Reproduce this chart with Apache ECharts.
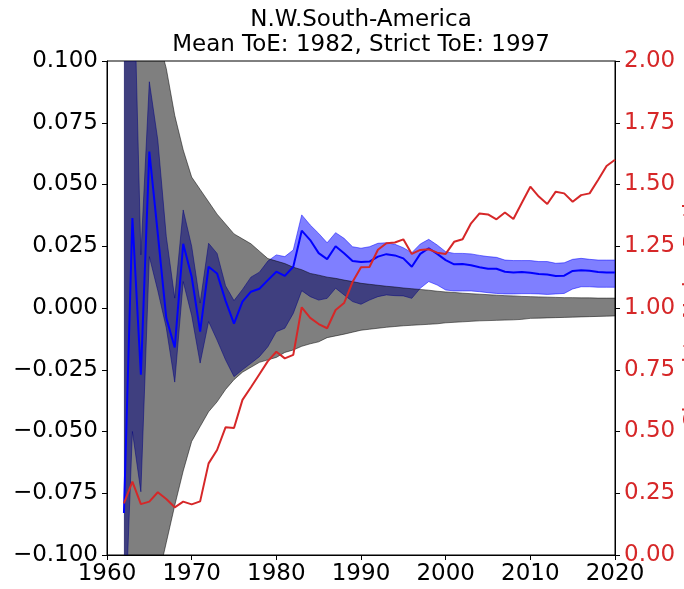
<!DOCTYPE html>
<html>
<head>
<meta charset="utf-8">
<title>N.W.South-America ToE</title>
<script src="https://cdn.jsdelivr.net/npm/echarts@6/dist/echarts.min.js"></script>
<style>
  html, body { margin: 0; padding: 0; background: #fff; }
  #chart { width: 684px; height: 589px; }
</style>
</head>
<body>
<div id="chart"></div>
<script>
// Annual values, 1962-2020
const years = [];
for (let y = 1962; y <= 2020; y++) years.push(y);

// Noise envelope (grey band), left axis
const noiseUpper = [0.30, 0.22, 0.17, 0.135, 0.11, 0.097, 0.078, 0.064, 0.053, 0.048,
  0.043, 0.038, 0.034, 0.030, 0.028, 0.026, 0.023, 0.020, 0.019, 0.018,
  0.0165, 0.0155, 0.014, 0.0133, 0.0125, 0.012, 0.0113, 0.0107, 0.010, 0.0096,
  0.0092, 0.0088, 0.0085, 0.0081, 0.0078, 0.0075, 0.0072, 0.0068, 0.0065, 0.0063,
  0.006, 0.0058, 0.0056, 0.0054, 0.0052, 0.005, 0.0049, 0.0047, 0.0046, 0.0045,
  0.0044, 0.0043, 0.0042, 0.0042, 0.0041, 0.0041, 0.004, 0.004, 0.004];
const noiseLower = [-0.30, -0.22, -0.17, -0.135, -0.11, -0.095, -0.080, -0.066, -0.054, -0.048,
  -0.042, -0.038, -0.033, -0.029, -0.026, -0.024, -0.022, -0.021, -0.020, -0.018,
  -0.017, -0.0155, -0.0145, -0.0137, -0.012, -0.0113, -0.0106, -0.0098, -0.009, -0.0086,
  -0.0082, -0.0078, -0.0075, -0.0072, -0.007, -0.0068, -0.0066, -0.0064, -0.006, -0.0058,
  -0.0056, -0.0054, -0.0052, -0.0051, -0.005, -0.0049, -0.0048, -0.0046, -0.0042, -0.0041,
  -0.004, -0.0039, -0.0038, -0.0037, -0.0036, -0.0035, -0.0034, -0.0033, -0.0032];

// Regional mean signal and its spread (blue), left axis
const signalMean = [-0.083, 0.0364, -0.027, 0.0633, 0.030, -0.004, -0.016, 0.026, 0.0127, -0.0096,
  0.0167, 0.014, 0.003, -0.0063, 0.0026, 0.0066, 0.0078, 0.0113, 0.0147, 0.013,
  0.0167, 0.0313, 0.0275, 0.0222, 0.0198, 0.025, 0.0222, 0.019, 0.0186, 0.0188,
  0.0208, 0.0218, 0.0213, 0.0201, 0.0167, 0.0219, 0.0242, 0.0219, 0.0194, 0.0177,
  0.0178, 0.0173, 0.0165, 0.0159, 0.0159, 0.0147, 0.0144, 0.0146, 0.0143, 0.0138,
  0.0136, 0.013, 0.0131, 0.015, 0.0153, 0.0151, 0.0146, 0.0144, 0.0144];
const signalUpper = [0.11, 0.16, 0.0215, 0.0916, 0.068, 0.029, 0.004, 0.0397, 0.025, 0.002,
  0.0262, 0.0221, 0.009, 0.003, 0.0075, 0.0125, 0.0145, 0.019, 0.0215, 0.0208,
  0.0235, 0.0377, 0.0336, 0.0302, 0.0264, 0.0305, 0.0282, 0.0248, 0.0242, 0.0248,
  0.0262, 0.0264, 0.0258, 0.0244, 0.0224, 0.0259, 0.0278, 0.0255, 0.0228, 0.0221,
  0.0221, 0.0219, 0.0213, 0.0208, 0.0205, 0.0194, 0.0192, 0.0192, 0.0192, 0.0188,
  0.0188, 0.0181, 0.0183, 0.0197, 0.0201, 0.0197, 0.0194, 0.0194, 0.0194];
const signalLower = [-0.14, -0.05, -0.0744, 0.0208, 0.007, -0.008, -0.030, 0.0107, -0.003, -0.0223,
  -0.0055, -0.013, -0.021, -0.0278, -0.025, -0.0224, -0.0197, -0.0157, -0.0096, -0.0082,
  -0.0022, 0.007, 0.0046, 0.0032, 0.0039, 0.008, 0.0053, 0.0026, 0.0015, 0.0032,
  0.0046, 0.0053, 0.005, 0.0049, 0.0039, 0.008, 0.0107, 0.0093, 0.0073, 0.0069,
  0.0069, 0.0069, 0.0066, 0.0062, 0.0059, 0.0057, 0.0057, 0.0058, 0.0058, 0.0057,
  0.0055, 0.0057, 0.0059, 0.0077, 0.0086, 0.0086, 0.0084, 0.0084, 0.0084];

// Signal-to-noise ratio (red), right axis
const snRatio = [0.209, 0.297, 0.206, 0.216, 0.254, 0.227, 0.193, 0.216, 0.205, 0.217,
  0.371, 0.425, 0.517, 0.514, 0.628, 0.679, 0.732, 0.785, 0.823, 0.796,
  0.81, 1.003, 0.96, 0.935, 0.918, 0.992, 1.02, 1.105, 1.165, 1.166,
  1.236, 1.262, 1.265, 1.278, 1.219, 1.235, 1.238, 1.224, 1.219, 1.268,
  1.278, 1.343, 1.383, 1.379, 1.359, 1.387, 1.36, 1.426, 1.491, 1.451,
  1.421, 1.471, 1.464, 1.43, 1.457, 1.464, 1.518, 1.575, 1.60];

const titleLines = ['N.W.South-America', 'Mean ToE: 1982, Strict ToE: 1997'];
const rightAxisName = 'Signal to Noise Ratio';

const FONT = '"DejaVu Sans", sans-serif';
const FS = 23;
const pairs = (vals) => years.map((y, i) => [y, vals[i]]);
const minus = (s) => s.replace('-', '\u2212');

// Draws a filled band between two series as one polygon plus its two edges
function bandRenderer(lo, hi, fill, edge) {
  return function (params, api) {
    if (params.dataIndex !== 0) return null;
    const up = years.map((y, i) => api.coord([y, hi[i]]));
    const dn = years.map((y, i) => api.coord([y, lo[i]]));
    const cs = params.coordSys;
    return {
      type: 'group',
      clipPath: { type: 'rect', shape: { x: cs.x, y: cs.y, width: cs.width, height: cs.height } },
      children: [
        { type: 'polygon', shape: { points: up.concat(dn.slice().reverse()) }, style: { fill: fill } },
        { type: 'polyline', shape: { points: up }, style: { fill: null, stroke: edge, lineWidth: 1 } },
        { type: 'polyline', shape: { points: dn }, style: { fill: null, stroke: edge, lineWidth: 1 } }
      ]
    };
  };
}

const chart = echarts.init(document.getElementById('chart'), null, { renderer: 'canvas' });

const axisCommon = {
  axisLine: { show: true, onZero: false, lineStyle: { color: '#000', width: 1 } },
  axisTick: { show: true, length: 5, lineStyle: { color: '#000', width: 1 } },
  splitLine: { show: false }
};

chart.setOption({
  animation: false,
  backgroundColor: '#fff',
  grid: {
    left: 107, right: 69, top: 61, bottom: 34,
    outerBoundsMode: 'none', containLabel: false,
    show: true, borderColor: '#000', borderWidth: 1, backgroundColor: 'transparent'
  },
  graphic: [{
    type: 'text', x: 361, y: 8, z: 10,
    style: {
      text: titleLines.join('\n'), font: FS + 'px ' + FONT, fill: '#000',
      textAlign: 'center', textVerticalAlign: 'top', lineHeight: 25
    }
  }],
  xAxis: Object.assign({
    type: 'value', min: 1960, max: 2020, interval: 10,
    axisLabel: {
      color: '#000', fontSize: FS, fontFamily: FONT, margin: 8,
      showMinLabel: true, showMaxLabel: true,
      formatter: (v) => String(v)
    }
  }, axisCommon),
  yAxis: [
    Object.assign({
      type: 'value', min: -0.1, max: 0.1, interval: 0.025, position: 'left',
      axisLabel: {
        color: '#000', fontSize: FS, fontFamily: FONT, margin: 9,
        showMinLabel: true, showMaxLabel: true,
        formatter: (v) => minus(v.toFixed(3))
      }
    }, axisCommon),
    Object.assign({
      type: 'value', min: 0, max: 2, interval: 0.25, position: 'right',
      name: rightAxisName, nameLocation: 'middle', nameRotate: 90, nameGap: 68,
      nameMoveOverlap: false,
      nameTextStyle: { color: '#d62728', fontSize: FS, fontFamily: FONT },
      axisLabel: {
        color: '#d62728', fontSize: FS, fontFamily: FONT, margin: 9,
        showMinLabel: true, showMaxLabel: true,
        formatter: (v) => v.toFixed(2)
      }
    }, axisCommon)
  ],
  series: [
    {
      type: 'custom', name: 'signal spread', yAxisIndex: 0, clip: true,
      data: pairs(signalMean),
      renderItem: bandRenderer(signalLower, signalUpper, 'rgba(0,0,255,0.5)', 'rgba(0,0,255,0.5)')
    },
    {
      type: 'custom', name: 'noise', yAxisIndex: 0, clip: true,
      data: pairs(noiseUpper),
      renderItem: bandRenderer(noiseLower, noiseUpper, 'rgba(0,0,0,0.5)', 'rgba(0,0,0,0.5)')
    },
    {
      type: 'line', name: 'signal', yAxisIndex: 0, data: pairs(signalMean),
      symbol: 'none', clip: true,
      lineStyle: { color: '#0000ff', width: 2 }
    },
    {
      type: 'line', name: 'ratio', yAxisIndex: 1, data: pairs(snRatio),
      symbol: 'none', clip: true,
      lineStyle: { color: '#d62728', width: 2 }
    }
  ]
});
</script>
</body>
</html>
